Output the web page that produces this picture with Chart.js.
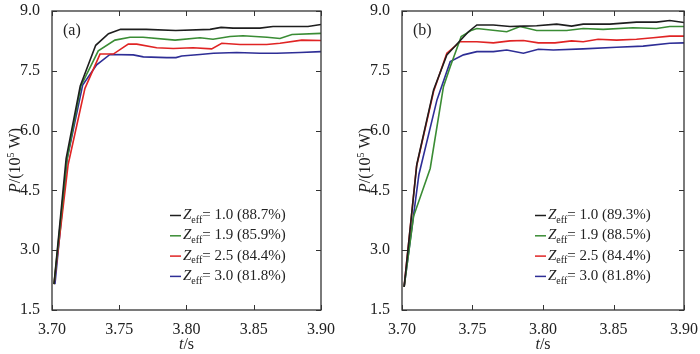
<!DOCTYPE html>
<html>
<head>
<meta charset="utf-8">
<script src="https://cdn.jsdelivr.net/npm/chart.js@4.4.1/dist/chart.umd.min.js"></script>
<style>
body { margin: 0; background: #fff; }
#wrap { position: relative; width: 700px; height: 354px; }
.panel { position: absolute; top: 0; width: 350px; height: 354px; }
</style>
</head>
<body>
<div id="wrap">
  <div class="panel" style="left:0"><canvas id="chartA" width="350" height="354"></canvas></div>
  <div class="panel" style="left:350px"><canvas id="chartB" width="350" height="354"></canvas></div>
</div>
<script>
// legend text
var zValues = ['1.0', '1.9', '2.5', '3.0'];
var effA = ['88.7%', '85.9%', '84.4%', '81.8%'];
var effB = ['89.3%', '88.5%', '84.4%', '81.8%'];
var colors = ['#1e1e1e', '#3a8c34', '#e02424', '#2e2e96'];

var xTicks = [3.70, 3.75, 3.80, 3.85, 3.90];
var yTicks = [1.5, 3.0, 4.5, 6.0, 7.5, 9.0];

// panel (a): time in s, power in 10^5 W
var tA1 = [3.7015, 3.7105, 3.721, 3.7325, 3.742, 3.751, 3.77, 3.792, 3.8175, 3.8257, 3.8346, 3.8546, 3.8643, 3.8903, 3.90];
var pA1 = [2.15, 5.3, 7.12, 8.14, 8.43, 8.54, 8.54, 8.51, 8.54, 8.59, 8.57, 8.57, 8.61, 8.61, 8.66];
var tA2 = [3.7015, 3.711, 3.7215, 3.7344, 3.7468, 3.758, 3.7677, 3.7915, 3.81, 3.8197, 3.8323, 3.842, 3.8599, 3.8695, 3.8784, 3.90];
var pA2 = [2.15, 5.25, 7.12, 8.0, 8.27, 8.34, 8.34, 8.27, 8.33, 8.29, 8.36, 8.38, 8.34, 8.31, 8.41, 8.44];
var tA3 = [3.7015, 3.712, 3.7245, 3.7357, 3.7456, 3.7567, 3.763, 3.7778, 3.7902, 3.8048, 3.8187, 3.8262, 3.8398, 3.8596, 3.8695, 3.8857, 3.90];
var pA3 = [2.15, 5.15, 7.06, 7.92, 7.92, 8.17, 8.17, 8.08, 8.06, 8.08, 8.05, 8.19, 8.16, 8.16, 8.19, 8.27, 8.26];
var tA4 = [3.7022, 3.7113, 3.7228, 3.7332, 3.7431, 3.7604, 3.7679, 3.7853, 3.7922, 3.7964, 3.81, 3.82, 3.8373, 3.8546, 3.8671, 3.8844, 3.90];
var pA4 = [2.15, 5.3, 7.14, 7.65, 7.91, 7.9, 7.85, 7.83, 7.83, 7.87, 7.91, 7.94, 7.96, 7.94, 7.94, 7.96, 7.98];

// panel (b)
var tB1 = [3.7015, 3.7105, 3.7224, 3.7318, 3.7471, 3.7531, 3.7648, 3.7766, 3.7861, 3.7955, 3.8097, 3.8203, 3.8285, 3.8474, 3.8663, 3.8805, 3.8899, 3.90];
var pB1 = [2.08, 5.15, 7.02, 7.9, 8.48, 8.65, 8.65, 8.61, 8.62, 8.63, 8.67, 8.62, 8.67, 8.67, 8.72, 8.72, 8.76, 8.71];
var tB2 = [3.7015, 3.7082, 3.72, 3.7294, 3.7342, 3.742, 3.7495, 3.7531, 3.7743, 3.7837, 3.7955, 3.8168, 3.8285, 3.8427, 3.8639, 3.8805, 3.8899, 3.90];
var pB2 = [2.08, 3.85, 5.05, 7.1, 7.6, 8.36, 8.52, 8.56, 8.48, 8.61, 8.51, 8.51, 8.56, 8.54, 8.58, 8.56, 8.61, 8.61];
var tB3 = [3.7015, 3.7103, 3.7224, 3.7318, 3.7413, 3.7531, 3.7648, 3.7766, 3.7861, 3.7967, 3.8085, 3.8203, 3.8285, 3.8391, 3.8522, 3.8663, 3.8781, 3.8899, 3.90];
var pB3 = [2.08, 5.1, 6.98, 7.94, 8.23, 8.23, 8.2, 8.25, 8.26, 8.2, 8.2, 8.25, 8.23, 8.29, 8.27, 8.29, 8.33, 8.37, 8.37];
var tB4 = [3.7015, 3.712, 3.7248, 3.7342, 3.7436, 3.7531, 3.7648, 3.7743, 3.7861, 3.7967, 3.8073, 3.8285, 3.8522, 3.871, 3.8899, 3.90];
var pB4 = [2.08, 4.9, 6.77, 7.73, 7.9, 7.98, 7.98, 8.02, 7.94, 8.04, 8.02, 8.05, 8.09, 8.12, 8.19, 8.2];

var serif = "'Liberation Serif', 'DejaVu Serif', serif";

function pts(t, p) {
    return t.map(function (v, i) { return { x: v, y: p[i] }; });
}

function makeSets(list) {
    return list.map(function (s, i) {
        return {
            data: pts(s[0], s[1]),
            borderColor: colors[i],
            borderWidth: 1.6,
            pointRadius: 0,
            tension: 0,
            fill: false
        };
    });
}

// frame, inward ticks, titles, legend, panel letter
var decor = {
    id: 'decor',
    afterDraw: function (chart) {
        var c = chart.ctx, a = chart.chartArea, o = chart.options.plugins.decor;
        var xs = chart.scales.x, ys = chart.scales.y;
        c.save();
        c.strokeStyle = '#333';
        c.lineWidth = 1.3;
        c.strokeRect(a.left, a.top, a.right - a.left, a.bottom - a.top);
        c.lineWidth = 1;
        c.beginPath();
        xTicks.forEach(function (v) {
            var px = Math.round(xs.getPixelForValue(v)) + 0.5;
            c.moveTo(px, a.bottom); c.lineTo(px, a.bottom - 5);
            c.moveTo(px, a.top); c.lineTo(px, a.top + 5);
        });
        yTicks.forEach(function (v) {
            var py = Math.round(ys.getPixelForValue(v)) + 0.5;
            c.moveTo(a.left, py); c.lineTo(a.left + 5, py);
            c.moveTo(a.right, py); c.lineTo(a.right - 5, py);
        });
        c.stroke();

        c.fillStyle = '#222';
        c.textBaseline = 'middle';
        // panel letter
        c.font = '16px ' + serif;
        c.textAlign = 'left';
        c.fillText(o.letter, a.left + 11, a.top + 20);

        // x title: t/s
        var cx = (a.left + a.right) / 2;
        c.font = 'italic 16px ' + serif;
        var w1 = c.measureText('t').width;
        c.font = '16px ' + serif;
        var w2 = c.measureText('/s').width;
        var x0 = cx - (w1 + w2) / 2;
        c.font = 'italic 16px ' + serif;
        c.fillText('t', x0, 345);
        c.font = '16px ' + serif;
        c.fillText('/s', x0 + w1, 345);

        // y title: P/(10^5 W)
        c.save();
        c.translate(16, (a.top + a.bottom) / 2);
        c.rotate(-Math.PI / 2);
        c.font = 'italic 16px ' + serif;
        var p1 = c.measureText('P').width;
        c.font = '16px ' + serif;
        var p2 = c.measureText('/(10').width;
        c.font = '10px ' + serif;
        var p3 = c.measureText('5').width;
        c.font = '16px ' + serif;
        var p4 = c.measureText(' W)').width;
        var sx = -(p1 + p2 + p3 + p4) / 2;
        c.font = 'italic 16px ' + serif;
        c.fillText('P', sx, 0);
        c.font = '16px ' + serif;
        c.fillText('/(10', sx + p1, 0);
        c.font = '10px ' + serif;
        c.fillText('5', sx + p1 + p2, -5);
        c.font = '16px ' + serif;
        c.fillText(' W)', sx + p1 + p2 + p3, 0);
        c.restore();

        // legend
        var lx = a.left + o.legendX;
        o.eff.forEach(function (e, i) {
            var ly = o.legendY + i * 20.3;
            c.strokeStyle = colors[i];
            c.lineWidth = 1.5;
            c.beginPath();
            c.moveTo(lx, ly + 0.5); c.lineTo(lx + 11, ly + 0.5);
            c.stroke();
            var tx = lx + 13;
            c.fillStyle = '#222';
            c.font = 'italic 15px ' + serif;
            c.fillText('Z', tx, ly);
            tx += c.measureText('Z').width;
            c.font = '10px ' + serif;
            c.fillText('eff', tx, ly + 5);
            tx += c.measureText('eff').width;
            c.font = '15px ' + serif;
            c.fillText('= ' + zValues[i] + ' (' + e + ')', tx, ly);
        });
        c.restore();
    }
};

function makeChart(id, sets, letter, eff, legendX, padRight) {
    return new Chart(document.getElementById(id), {
        type: 'line',
        data: { datasets: makeSets(sets) },
        plugins: [decor],
        options: {
            responsive: false,
            animation: false,
            devicePixelRatio: 1,
            layout: { padding: { top: 11, right: padRight, left: 0, bottom: 0 } },
            plugins: {
                legend: { display: false },
                tooltip: { enabled: false },
                decor: { letter: letter, eff: eff, legendX: legendX, legendY: 215 }
            },
            scales: {
                x: {
                    type: 'linear',
                    min: 3.70,
                    max: 3.90,
                    afterBuildTicks: function (s) { s.ticks = xTicks.map(function (v) { return { value: v }; }); },
                    afterFit: function (s) { s.height = 44; s.paddingLeft = 0; s.paddingRight = 0; },
                    grid: { display: false },
                    border: { display: false },
                    ticks: {
                        maxRotation: 0,
                        padding: 2,
                        color: '#222',
                        font: { family: serif, size: 16 },
                        callback: function (v) { return v.toFixed(2); }
                    }
                },
                y: {
                    min: 1.5,
                    max: 9.0,
                    afterBuildTicks: function (s) { s.ticks = yTicks.map(function (v) { return { value: v }; }); },
                    afterFit: function (s) { s.width = 52; s.paddingTop = 0; s.paddingBottom = 0; },
                    grid: { display: false },
                    border: { display: false },
                    ticks: {
                        padding: 4,
                        color: '#222',
                        font: { family: serif, size: 16 },
                        callback: function (v) { return v.toFixed(1); }
                    }
                }
            }
        }
    });
}

makeChart('chartA', [[tA1, pA1], [tA2, pA2], [tA3, pA3], [tA4, pA4]], '(a)', effA, 118, 29);
makeChart('chartB', [[tB1, pB1], [tB2, pB2], [tB3, pB3], [tB4, pB4]], '(b)', effB, 133, 16);
</script>
</body>
</html>
